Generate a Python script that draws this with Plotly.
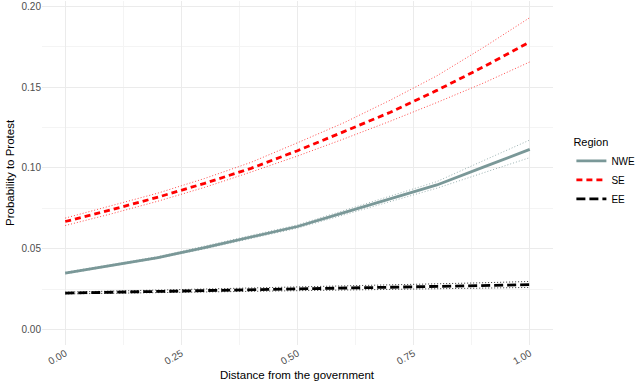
import plotly.graph_objects as go

distance = [0.0, 0.1, 0.2, 0.3, 0.4, 0.5, 0.6, 0.7, 0.8, 0.9, 1.0]

nwe_fit = [0.0350, 0.0398, 0.0446, 0.0508, 0.0573, 0.0638, 0.0724, 0.0810, 0.0895, 0.1005, 0.1115]
nwe_upper = [0.0355, 0.0404, 0.0452, 0.0517, 0.0582, 0.0648, 0.0737, 0.0826, 0.0916, 0.1045, 0.1173]
nwe_lower = [0.0345, 0.0393, 0.0441, 0.0500, 0.0564, 0.0628, 0.0710, 0.0793, 0.0875, 0.0970, 0.1064]

se_fit = [0.0669, 0.0742, 0.0820, 0.0905, 0.0998, 0.1107, 0.1225, 0.1345, 0.1480, 0.1625, 0.1780]
se_upper = [0.0690, 0.0766, 0.0845, 0.0935, 0.1035, 0.1156, 0.1280, 0.1420, 0.1570, 0.1745, 0.1930]
se_lower = [0.0644, 0.0717, 0.0795, 0.0880, 0.0975, 0.1074, 0.1180, 0.1290, 0.1405, 0.1525, 0.1656]

ee_fit = [0.0226, 0.0231, 0.0236, 0.0241, 0.0246, 0.0251, 0.0256, 0.0262, 0.0267, 0.0272, 0.0278]
ee_upper = [0.0232, 0.0238, 0.0244, 0.0250, 0.0256, 0.0262, 0.0269, 0.0276, 0.0283, 0.0290, 0.0298]
ee_lower = [0.0221, 0.0225, 0.0229, 0.0233, 0.0237, 0.0241, 0.0245, 0.0249, 0.0253, 0.0257, 0.0261]

x_ticks = [0.0, 0.25, 0.5, 0.75, 1.0]
x_tick_labels = ["0.00", "0.25", "0.50", "0.75", "1.00"]
y_ticks = [0.0, 0.05, 0.10, 0.15, 0.20]
y_tick_labels = ["0.00", "0.05", "0.10", "0.15", "0.20"]

regions = [
    ("NWE", nwe_fit, nwe_upper, nwe_lower, "#7a9898", "solid", "rgba(122,152,152,0.75)"),
    ("SE", se_fit, se_upper, se_lower, "#ff0000", "6px,4px", "rgba(255,0,0,0.7)"),
    ("EE", ee_fit, ee_upper, ee_lower, "#000000", "9px,4px", "rgba(0,0,0,0.8)"),
]

fig = go.Figure()
for name, fit, up, lo, col, dash, cicol in regions:
    for band in (up, lo):
        fig.add_trace(go.Scatter(
            x=distance, y=band, mode="lines", showlegend=False, hoverinfo="skip",
            line=dict(color=cicol, width=1, dash="1px,2px"),
        ))
for name, fit, up, lo, col, dash, cicol in regions:
    fig.add_trace(go.Scatter(
        x=distance, y=fit, mode="lines", name=name,
        line=dict(color=col, width=2.8, dash=dash),
    ))

fig.update_layout(
    width=640, height=382,
    margin=dict(l=42, r=87, t=1, b=37, autoexpand=False),
    paper_bgcolor="white", plot_bgcolor="white",
    font=dict(family="Liberation Sans, Arial, sans-serif", color="#000000"),
    legend=dict(
        title=dict(text="Region", font=dict(size=11, color="#000000")),
        x=1.036, xanchor="left", y=0.5, yanchor="middle",
        font=dict(size=10, color="#000000"),
        tracegroupgap=0, itemwidth=30, bgcolor="rgba(0,0,0,0)",
    ),
    showlegend=True,
    annotations=[
        dict(text="Distance from the government", xref="paper", yref="paper",
             x=0.5, y=-0.087, xanchor="center", yanchor="middle", showarrow=False,
             font=dict(size=11.5, color="#000000")),
        dict(text="Probability to Protest", xref="paper", yref="paper",
             x=-0.0626, y=0.5, xanchor="center", yanchor="middle", showarrow=False,
             textangle=-90, font=dict(size=11.5, color="#000000")),
    ],
)
fig.update_xaxes(
    range=[-0.05, 1.05], tickvals=x_ticks, ticktext=x_tick_labels,
    tickangle=-30, tickfont=dict(size=10, color="#4d4d4d"),
    showgrid=True, gridcolor="#ebebeb", gridwidth=1.1, zeroline=False,
    showline=False, ticks="", automargin=False,
    minor=dict(showgrid=True, gridcolor="#f4f4f4", gridwidth=0.6, tickvals=[-0.125 + 0.25 * k for k in range(1, 5)]),
)
fig.update_yaxes(
    range=[-0.0095, 0.2033], tickvals=y_ticks, ticktext=y_tick_labels,
    tickfont=dict(size=10, color="#4d4d4d"),
    showgrid=True, gridcolor="#ebebeb", gridwidth=1.1, zeroline=False,
    showline=False, ticks="", automargin=False,
    minor=dict(showgrid=True, gridcolor="#f4f4f4", gridwidth=0.6, tickvals=[0.025, 0.075, 0.125, 0.175]),
)

fig.write_html(
    "out.html",
    config={"displayModeBar": False},
    post_script="document.body.style.margin='0';document.body.style.padding='0';document.body.style.overflow='hidden';",
)
